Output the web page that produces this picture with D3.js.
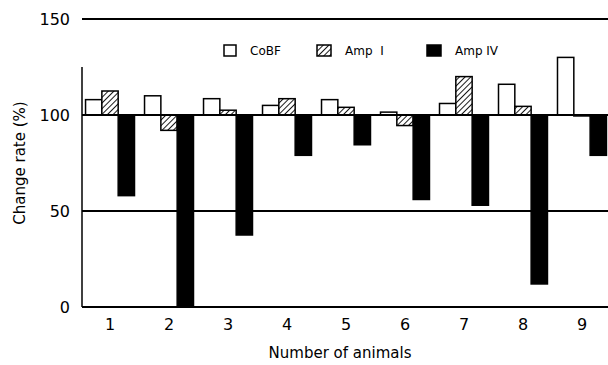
<!DOCTYPE html>
<html>
<head>
<meta charset="utf-8">
<script src="https://cdn.jsdelivr.net/npm/d3@7"></script>
<style>
body { margin: 0; background: #fff; }
text { font-family: "DejaVu Sans", Verdana, sans-serif; fill: #000; }
</style>
</head>
<body>
<script>
var width = 608;
var height = 365;

var animals = ["1","2","3","4","5","6","7","8","9"];
var series = ["CoBF","Amp I","Amp IV"];
var legendLabels = ["CoBF","Amp  I","Amp IV"];
var cobf  = [108, 110, 108.5, 105, 108, 101.5, 106, 116, 130];
var ampI  = [112.5, 92, 102.5, 108.5, 104, 94.5, 120, 104.5, 99.5];
var ampIV = [58, 0, 37.5, 79, 84.5, 56, 53, 12, 79];
var yTicks = [0, 50, 100, 150];

var values = [cobf, ampI, ampIV];
var data = animals.map(function(a, i){
    return { animal: a, vals: series.map(function(s, j){ return { key: s, value: values[j][i] }; }) };
});

var margin = { left: 82, top: 19, bottom: 58 };
var svg = d3.select("body").append("svg").attr("width", width).attr("height", height);

var defs = svg.append("defs");
var pat = defs.append("pattern").attr("id","hatch").attr("patternUnits","userSpaceOnUse")
    .attr("width",4).attr("height",4).attr("patternTransform","rotate(45)");
pat.append("rect").attr("width",4).attr("height",4).attr("fill","#fff");
pat.append("line").attr("x1",0).attr("y1",0).attr("x2",0).attr("y2",4)
    .attr("stroke","#000").attr("stroke-width",1.8);

var x = d3.scaleBand().domain(animals).range([margin.left, 610]).paddingInner(0.17).paddingOuter(0.06);
var xs = d3.scaleBand().domain(series).range([0, x.bandwidth()]);
var y = d3.scaleLinear().domain([0, 150]).range([height - margin.bottom, margin.top]);

var fills = { "CoBF": "#fff", "Amp I": "url(#hatch)", "Amp IV": "#000" };

// bars grow from the 100% baseline
svg.append("g").selectAll("g")
    .data(data)
    .enter().append("g")
        .attr("transform", function(d){ return "translate(" + x(d.animal) + ",0)"; })
    .selectAll("rect")
    .data(function(d){ return d.vals; })
    .enter().append("rect")
        .attr("x", function(d){ return xs(d.key); })
        .attr("width", xs.bandwidth())
        .attr("y", function(d){ return y(Math.max(d.value, 100)); })
        .attr("height", function(d){ return Math.abs(y(d.value) - y(100)); })
        .attr("fill", function(d){ return fills[d.key]; })
        .attr("stroke", "#000")
        .attr("stroke-width", 1.5);

// horizontal rules
svg.append("g").selectAll("line")
    .data(yTicks)
    .enter().append("line")
        .attr("x1", margin.left).attr("x2", width)
        .attr("y1", function(d){ return y(d); }).attr("y2", function(d){ return y(d); })
        .attr("stroke", "#000").attr("stroke-width", 1.8);

svg.append("line")
    .attr("x1", margin.left).attr("x2", margin.left)
    .attr("y1", y(125)).attr("y2", y(0))
    .attr("stroke", "#000").attr("stroke-width", 1.5);

// y axis
var yAxis = svg.append("g").attr("transform", "translate(" + margin.left + ",0)")
    .call(d3.axisLeft(y).tickValues(yTicks).tickSize(0).tickPadding(12));
yAxis.select(".domain").remove();
yAxis.selectAll("text").style("font-size", "16px");

// x axis
var xAxis = svg.append("g").attr("transform", "translate(0," + y(0) + ")")
    .call(d3.axisBottom(x).tickSize(0).tickPadding(12));
xAxis.select(".domain").remove();
xAxis.selectAll("text").style("font-size", "16px");

svg.append("text")
    .attr("transform", "translate(25," + ((y(0) + y(150)) / 2) + ") rotate(-90)")
    .attr("text-anchor", "middle")
    .style("font-size", "15px")
    .text("Change rate (%)");

svg.append("text")
    .attr("x", 340).attr("y", 358)
    .attr("text-anchor", "middle")
    .style("font-size", "15px")
    .text("Number of animals");

// legend
var legendX = [224, 317, 427];
var legend = svg.append("g").selectAll("g")
    .data(series)
    .enter().append("g")
        .attr("transform", function(d, i){ return "translate(" + legendX[i] + ",45)"; });
legend.append("rect")
    .attr("width", function(d, i){ return i == 0 ? 12 : 14; }).attr("height", 11)
    .attr("fill", function(d){ return fills[d]; })
    .attr("stroke", "#000").attr("stroke-width", 1.5);
legend.append("text")
    .attr("x", function(d, i){ return i == 0 ? 26 : 28; }).attr("y", 10)
    .style("font-size", "12px")
    .style("white-space", "pre")
    .text(function(d, i){ return legendLabels[i]; });
</script>
</body>
</html>
